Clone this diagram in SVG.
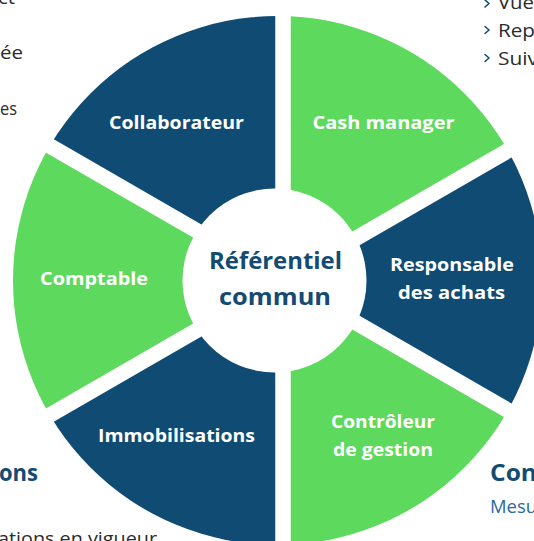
<svg xmlns="http://www.w3.org/2000/svg" width="534" height="541" viewBox="0 0 534 541">
<style>
.dark{fill:#104b74}
.green{fill:#5dd95d}
.lbl{font-family:"Open Sans","Liberation Sans",sans-serif;font-weight:700;font-size:17.5px;fill:#ffffff;text-anchor:middle}
.ctr{font-family:"Open Sans","Liberation Sans",sans-serif;font-weight:700;font-size:23px;fill:#134b73;text-anchor:middle}
.body{font-family:"Open Sans","Liberation Sans",sans-serif;font-size:18px;fill:#2b2b2b}
.head{font-family:"Open Sans","Liberation Sans",sans-serif;font-weight:700;font-size:22.5px;fill:#134b73}
.chev{fill:none;stroke:#134b73;stroke-width:1.6;stroke-linecap:round;stroke-linejoin:round}
</style>
<defs>
<clipPath id="rim"><circle cx="277.5" cy="280.5" r="264.5"/></clipPath>
</defs>
<rect width="534" height="541" fill="#ffffff"/>
<g id="background-text">
<text class="body" x="-2" y="4" textLength="17" lengthAdjust="spacingAndGlyphs">ct</text>
<text class="body" x="0" y="59" textLength="23" lengthAdjust="spacingAndGlyphs">ée</text>
<text class="body" x="0" y="115" textLength="17" lengthAdjust="spacingAndGlyphs">es</text>
<path class="chev" d="M485 0 L489 3.5 L485 7"/>
<text class="body" x="498" y="9" textLength="36" lengthAdjust="spacingAndGlyphs">Vue</text>
<path class="chev" d="M485 26.5 L489 30 L485 33.5"/>
<text class="body" x="498" y="37" textLength="37" lengthAdjust="spacingAndGlyphs">Rep</text>
<path class="chev" d="M485 54.5 L489 58 L485 61.5"/>
<text class="body" x="498" y="65" textLength="40" lengthAdjust="spacingAndGlyphs">Suiv</text>
<text class="head" x="-1" y="481" textLength="39" lengthAdjust="spacingAndGlyphs">ons</text>
<text class="body" x="-2" y="545" textLength="159" lengthAdjust="spacingAndGlyphs">ations en vigueur</text>
<text class="head" x="490" y="481" textLength="47" lengthAdjust="spacingAndGlyphs">Con</text>
<text class="body" x="490" y="513" style="fill:#2a6a9a" textLength="47" lengthAdjust="spacingAndGlyphs">Mesu</text>
</g>
<g id="wheel" clip-path="url(#rim)">
<g id="cash-manager">
<path class="green" d="M290.75 267.08 L290.75 -132.92 L637.16 67.08 Z"/>
<text class="lbl" x="383.5" y="129" textLength="142" lengthAdjust="spacingAndGlyphs">Cash manager</text>
</g>
<g id="responsable-achats">
<path class="dark" d="M298.5 280.5 L644.91 80.5 L644.91 480.5 Z"/>
<text class="lbl" x="452" y="271" textLength="124" lengthAdjust="spacingAndGlyphs">Responsable</text>
<text class="lbl" x="451.5" y="299" textLength="107" lengthAdjust="spacingAndGlyphs">des achats</text>
</g>
<g id="controleur-gestion">
<path class="green" d="M290.75 293.92 L637.16 493.92 L290.75 693.92 Z"/>
<text class="lbl" x="383" y="428" textLength="104" lengthAdjust="spacingAndGlyphs">Contrôleur</text>
<text class="lbl" x="383" y="456" textLength="100" lengthAdjust="spacingAndGlyphs">de gestion</text>
</g>
<g id="immobilisations">
<path class="dark" d="M275.25 293.92 L275.25 693.92 L-71.16 493.92 Z"/>
<text class="lbl" x="176.5" y="442" textLength="157" lengthAdjust="spacingAndGlyphs">Immobilisations</text>
</g>
<g id="comptable">
<path class="green" d="M267.5 280.5 L-78.91 480.5 L-78.91 80.5 Z"/>
<text class="lbl" x="94" y="285" textLength="108" lengthAdjust="spacingAndGlyphs">Comptable</text>
</g>
<g id="collaborateur">
<path class="dark" d="M275.25 267.08 L-71.16 67.08 L275.25 -132.92 Z"/>
<text class="lbl" x="176.5" y="129" textLength="135" lengthAdjust="spacingAndGlyphs">Collaborateur</text>
</g>
</g>
<g id="referentiel-commun">
<circle cx="274.5" cy="280.5" r="92" fill="#ffffff"/>
<text class="ctr" x="275.5" y="269" textLength="133" lengthAdjust="spacingAndGlyphs">Référentiel</text>
<text class="ctr" x="275" y="305" textLength="112" lengthAdjust="spacingAndGlyphs">commun</text>
</g>
<g id="connectors"/>
</svg>
